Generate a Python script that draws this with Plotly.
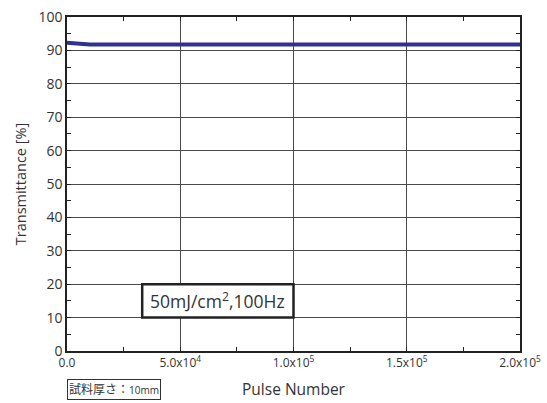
import plotly.graph_objects as go

pulse_number = [0, 5000, 10000, 20000, 50000, 100000, 150000, 200000]
transmittance = [92.3, 92.0, 91.8, 91.8, 91.8, 91.8, 91.8, 91.8]

x_tickvals = [0, 50000, 100000, 150000, 200000]
x_ticktext = ["0.0", "5.0x10<sup>4</sup>", "1.0x10<sup>5</sup>", "1.5x10<sup>5</sup>", "2.0x10<sup>5</sup>"]
y_tickvals = [0, 10, 20, 30, 40, 50, 60, 70, 80, 90, 100]

font_family = "Open Sans, Noto Sans CJK JP, sans-serif"
grid_col = "#4a4a4a"

fig = go.Figure()
fig.add_trace(go.Scatter(
    x=pulse_number, y=transmittance, mode="lines",
    line=dict(color="#2e3192", width=4), hoverinfo="skip", showlegend=False,
))

fig.update_layout(
    width=547, height=403,
    margin=dict(l=67, r=27, t=17, b=52, autoexpand=False),
    paper_bgcolor="white", plot_bgcolor="white",
    font=dict(family=font_family, color="#333333"),
    xaxis=dict(
        range=[0, 200000], tickvals=x_tickvals, ticktext=x_ticktext,
        tickfont=dict(size=12, color="#333333"),
        showgrid=True, gridcolor=grid_col, gridwidth=1,
        showline=True, linecolor="#222222", linewidth=1.5, mirror="allticks",
        ticks="inside", ticklen=4, tickcolor="#222222",
        minor=dict(ticks="inside", ticklen=4, dtick=25000, tick0=0, tickcolor="#222222", showgrid=False),
        zeroline=False, automargin=False,
        title=dict(text="Pulse Number", font=dict(size=15.5, color="#333333"), standoff=14),
    ),
    yaxis=dict(
        range=[0, 100], tickvals=y_tickvals,
        tickfont=dict(size=14, color="#333333"),
        showgrid=True, gridcolor=grid_col, gridwidth=1,
        showline=True, linecolor="#222222", linewidth=1.5, mirror="allticks",
        ticks="inside", ticklen=4, tickcolor="#222222",
        minor=dict(ticks="inside", ticklen=4, dtick=5, tick0=0, tickcolor="#222222", showgrid=False),
        zeroline=False, automargin=False,
        title=dict(text="Transmittance [%]", font=dict(size=14.5, color="#333333"), standoff=8),
    ),
)

# condition label box
fig.add_shape(type="rect", xref="x", yref="y", x0=33200, x1=100000, y0=10, y1=20,
              line=dict(color="#222222", width=2.5), fillcolor="white", layer="above")
fig.add_annotation(x=66600, y=15, xref="x", yref="y", showarrow=False,
                   text="50mJ/cm<sup>2</sup>,100Hz",
                   font=dict(size=17.5, color="#333333"))

# sample thickness label
fig.add_annotation(x=0, y=-0.147, xref="paper", yref="paper", xanchor="left", yanchor="bottom",
                   showarrow=False,
                   text="試料厚さ：<span style='font-size:10px'>10mm</span>",
                   font=dict(size=12, color="#333333"),
                   bordercolor="#333333", borderwidth=1, borderpad=1)

fig.write_html("out.html")
